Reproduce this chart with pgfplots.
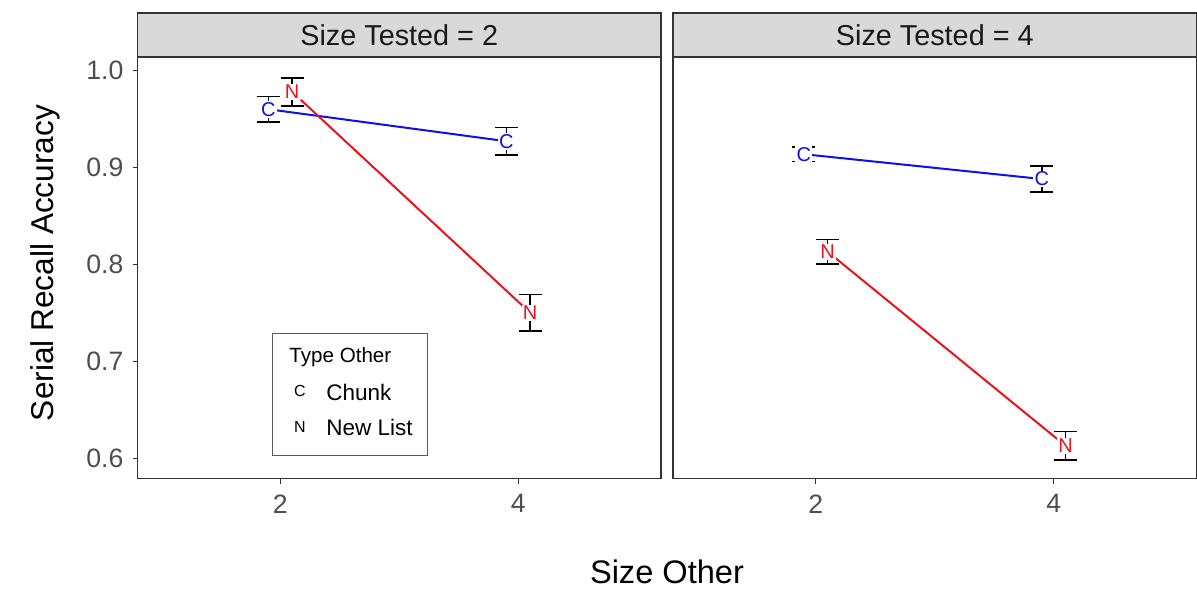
\documentclass[border=0pt]{standalone}
\usepackage{pgfplots}
\pgfplotsset{compat=1.18}
\usepackage{pgfplotstable}
\usepackage{fontspec}
\setmainfont{Liberation Sans}
\definecolor{gtwenty}{HTML}{333333}
\definecolor{gthirty}{HTML}{4D4D4D}
\definecolor{stripgray}{HTML}{D9D9D9}
\definecolor{cblue}{HTML}{0F0FE6}
\definecolor{nred}{HTML}{E8141C}

% Size Tested = 2
\pgfplotstableread{
x y e
1.9 0.960 0.013
3.9 0.927 0.014
}\LC
\pgfplotstableread{
x y e
2.1 0.978 0.0145
4.1 0.750 0.019
}\LN
% Size Tested = 4
\pgfplotstableread{
x y e
1.9 0.9136 0.0077
3.9 0.888 0.0132
}\RC
\pgfplotstableread{
x y e
2.1 0.813 0.0124
4.1 0.6127 0.0146
}\RN

\pgfplotsset{
  panel/.style={
    scale only axis, width=261.75pt, height=210.75pt,
    xmin=0.8, xmax=5.2, ymin=0.579, ymax=1.0139,
    xtick={2,4}, xticklabels={2,4},
    xtick pos=bottom, ytick pos=left,
    axis line style={gtwenty, line width=0.6pt},
    tick style={gtwenty, line width=0.6pt},
    tick align=outside, major tick length=2.5pt,
    ticklabel style={font=\fontsize{13.3}{15}\selectfont, text=gthirty},
    xticklabel style={yshift=-2pt},
    yticklabel style={xshift=-1pt},
    /pgf/number format/assume math mode=true,
    anchor=south west,
  },
  lineC/.style={cblue, line width=1pt, mark=none},
  lineN/.style={nred, line width=1pt, mark=none},
  ebar/.style={draw=none, mark=none,
    error bars/.cd, y dir=both, y explicit,
    error bar style={black, line width=0.8pt},
    error mark options={rotate=90, mark size=5.75pt, black, line width=0.8pt}},
  labC/.style={draw=none, mark=none, nodes near coords={C},
    every node near coord/.style={anchor=center, fill=white, inner sep=0.6pt,
      text=cblue, font=\fontsize{10}{12}\selectfont}},
  labN/.style={draw=none, mark=none, nodes near coords={N},
    every node near coord/.style={anchor=center, fill=white, inner sep=0.6pt,
      text=nred, font=\fontsize{10}{12}\selectfont}},
}

\begin{document}
\begin{tikzpicture}[x=1pt,y=1pt]
\path[use as bounding box] (0,0) rectangle (598.5,295);

\begin{axis}[panel, name=L, at={(68.75pt,55.75pt)},
  ytick={0.6,0.7,0.8,0.9,1.0}, yticklabels={0.6,0.7,0.8,0.9,1.0}]
\addplot[lineC] table[x=x,y=y]{\LC};
\addplot[lineN] table[x=x,y=y]{\LN};
\addplot[ebar] table[x=x,y=y,y error=e]{\LC};
\addplot[ebar] table[x=x,y=y,y error=e]{\LN};
\addplot[labC] table[x=x,y=y]{\LC};
\addplot[labN] table[x=x,y=y]{\LN};
\end{axis}

\begin{axis}[panel, name=R, at={(336.5pt,55.75pt)}, ytick=\empty]
\addplot[lineC] table[x=x,y=y]{\RC};
\addplot[lineN] table[x=x,y=y]{\RN};
\addplot[ebar] table[x=x,y=y,y error=e]{\RC};
\addplot[ebar] table[x=x,y=y,y error=e]{\RN};
\addplot[labC] table[x=x,y=y]{\RC};
\addplot[labN] table[x=x,y=y]{\RN};
\end{axis}

% facet strips
\draw[gtwenty, line width=0.6pt, fill=stripgray] (L.north west) rectangle ([yshift=22pt]L.north east);
\node[font=\fontsize{14.4}{16}\selectfont, text=black!90] at ([yshift=11pt]L.north) {Size Tested = 2};
\draw[gtwenty, line width=0.6pt, fill=stripgray] (R.north west) rectangle ([yshift=22pt]R.north east);
\node[font=\fontsize{14.4}{16}\selectfont, text=black!90] at ([yshift=11pt]R.north) {Size Tested = 4};

% axis titles
\node[rotate=90, anchor=base, font=\fontsize{15.8}{18}\selectfont] at (26.5,163.5) {Serial Recall Accuracy};
\node[anchor=base, font=\fontsize{16.3}{18}\selectfont] at (333.5,3.5) {Size Other};

% legend
\draw[draw=black!65, line width=0.5pt, fill=white] (136.35,67.5) rectangle (213.5,128.5);
\node[anchor=base west, inner sep=0pt, font=\fontsize{10.3}{12}\selectfont] at (144.5,113.8) {Type Other};
\node[anchor=base, inner sep=0pt, font=\fontsize{8}{9}\selectfont] at (150,96.8) {C};
\node[anchor=base west, inner sep=0pt, font=\fontsize{11.25}{13}\selectfont] at (163,95) {Chunk};
\node[anchor=base, inner sep=0pt, font=\fontsize{8}{9}\selectfont] at (150,78.8) {N};
\node[anchor=base west, inner sep=0pt, font=\fontsize{11.25}{13}\selectfont] at (163,77.5) {New List};
\end{tikzpicture}
\end{document}
